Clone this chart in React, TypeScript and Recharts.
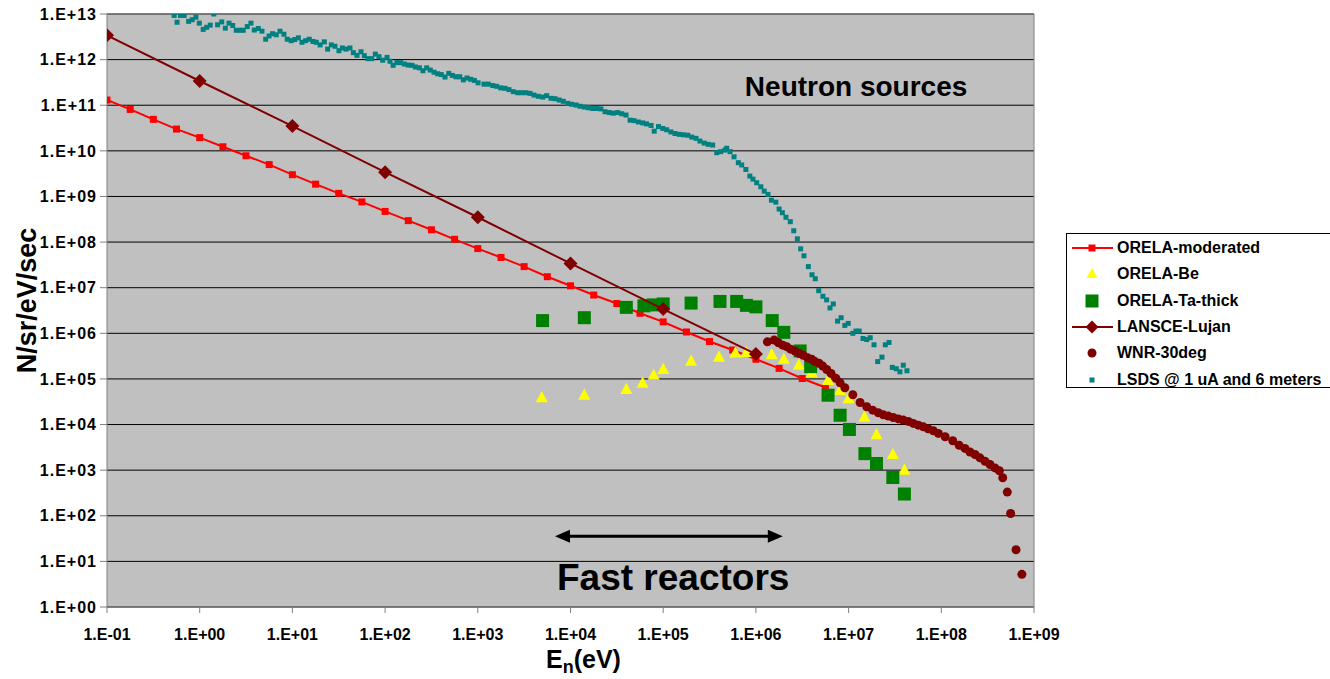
import React from 'react';
import {
  ScatterChart, Scatter, XAxis, YAxis, CartesianGrid, Legend,
  ReferenceLine, ReferenceDot
} from 'recharts';

const FONT = '"Liberation Sans", Arial, sans-serif';

const xTicks = [0.1, 1, 10, 100, 1e3, 1e4, 1e5, 1e6, 1e7, 1e8, 1e9];
const xTickLabels = ['1.E-01', '1.E+00', '1.E+01', '1.E+02', '1.E+03', '1.E+04', '1.E+05', '1.E+06', '1.E+07', '1.E+08', '1.E+09'];
const yTicks = [1, 10, 100, 1e3, 1e4, 1e5, 1e6, 1e7, 1e8, 1e9, 1e10, 1e11, 1e12, 1e13];
const yTickLabels = ['1.E+00', '1.E+01', '1.E+02', '1.E+03', '1.E+04', '1.E+05', '1.E+06', '1.E+07', '1.E+08', '1.E+09', '1.E+10', '1.E+11', '1.E+12', '1.E+13'];

// [energy eV, flux]
const orelaModerated: [number, number][] = [
  [0.1, 1.3e11], [0.178, 8.1e10], [0.316, 4.9e10], [0.562, 3.0e10], [1, 1.95e10],
  [1.78, 1.23e10], [3.16, 7.8e9], [5.62, 5.0e9], [10, 3.0e9], [17.8, 1.86e9],
  [31.6, 1.17e9], [56.2, 7.6e8], [100, 4.7e8], [178, 2.95e8], [316, 1.86e8],
  [562, 1.15e8], [1000, 7.2e7], [1780, 4.6e7], [3160, 2.9e7], [5620, 1.74e7],
  [1e4, 1.1e7], [1.78e4, 6.9e6], [3.16e4, 4.5e6], [5.62e4, 2.75e6], [1e5, 1.78e6],
  [1.78e5, 1.07e6], [3.16e5, 6.6e5], [5.62e5, 4.3e5], [1e6, 2.7e5], [1.78e6, 1.7e5],
  [3.16e6, 1.02e5], [5.62e6, 6.5e4],
];

const orelaBe: [number, number][] = [
  [4.9e3, 3.9e4], [1.41e4, 4.4e4], [4.0e4, 5.9e4], [6.0e4, 8.1e4], [7.9e4, 1.2e5],
  [1.0e5, 1.62e5], [2.0e5, 2.45e5], [4.0e5, 3.0e5], [6.0e5, 3.7e5], [7.9e5, 3.8e5],
  [1.48e6, 3.4e5], [2.0e6, 2.7e5], [2.9e6, 2.0e5], [4.0e6, 1.35e5], [6.0e6, 9.3e4],
  [8.1e6, 5.6e4], [1.0e7, 3.7e4], [1.48e7, 1.45e4], [2.0e7, 6.0e3], [3.0e7, 2.2e3],
  [4.0e7, 1.0e3],
];

const orelaTa: [number, number][] = [
  [5.0e3, 1.9e6], [1.41e4, 2.2e6], [4.0e4, 3.7e6], [6.2e4, 4.0e6], [7.8e4, 4.2e6],
  [1.0e5, 4.4e6], [2.0e5, 4.6e6], [4.1e5, 5.0e6], [6.2e5, 5.0e6], [7.9e5, 4.1e6],
  [1.0e6, 3.8e6], [1.5e6, 1.9e6], [2.0e6, 1.05e6], [3.0e6, 4.1e5], [3.9e6, 1.86e5],
  [6.0e6, 4.4e4], [8.1e6, 1.6e4], [1.02e7, 7.8e3], [1.5e7, 2.3e3], [2.0e7, 1.4e3],
  [3.0e7, 6.9e2], [4.0e7, 3.0e2],
];

const lansce: [number, number][] = [
  [0.1, 3.4e12], [1, 3.4e11], [10, 3.5e10], [100, 3.4e9],
  [1e3, 3.5e8], [1e4, 3.4e7], [1e5, 3.4e6], [1e6, 3.5e5],
];

const wnr: [number, number][] = [
  [1.33e6, 6.5e5], [1.57e6, 7.1e5], [1.75e6, 6.2e5], [1.95e6, 5.5e5], [2.15e6, 5.1e5],
  [2.37e6, 4.5e5], [2.64e6, 4.1e5], [2.94e6, 3.6e5], [3.24e6, 3.3e5], [3.62e6, 2.9e5],
  [4.0e6, 2.7e5], [4.34e6, 2.4e5], [4.8e6, 2.2e5], [5.26e6, 1.91e5], [5.81e6, 1.61e5],
  [6.46e6, 1.32e5], [7.3e6, 1.03e5], [8.1e6, 8.2e4], [9.1e6, 6.4e4], [1.11e7, 4.5e4],
  [1.33e7, 3.05e4], [1.57e7, 2.45e4], [1.82e7, 2.07e4], [2.09e7, 1.81e4], [2.37e7, 1.63e4],
  [2.68e7, 1.53e4], [3.03e7, 1.43e4], [3.44e7, 1.33e4], [3.89e7, 1.25e4], [4.41e7, 1.17e4],
  [4.99e7, 1.06e4], [5.65e7, 9.7e3], [6.4e7, 8.9e3], [7.2e7, 8.1e3], [8.2e7, 7.3e3],
  [9.3e7, 6.4e3], [1.1e8, 5.4e3], [1.33e8, 4.4e3], [1.56e8, 3.5e3], [1.8e8, 3.0e3],
  [2.04e8, 2.5e3], [2.31e8, 2.2e3], [2.61e8, 1.86e3], [2.96e8, 1.57e3], [3.35e8, 1.33e3],
  [3.79e8, 1.12e3], [4.23e8, 9.7e2], [4.6e8, 6.8e2], [5.15e8, 3.3e2], [5.6e8, 1.12e2],
  [6.4e8, 18], [7.4e8, 5.2],
];

const lsds: [number, number][] = [
  [0.53, 9.3e12], [0.57, 6.6e12], [0.62, 9.3e12], [0.68, 9.3e12], [0.76, 6.9e12],
  [0.83, 7.5e12], [0.91, 8.5e12], [0.99, 6.3e12], [1.09, 4.6e12], [1.19, 5.1e12],
  [1.3, 5.7e12], [1.42, 1.0e13], [1.56, 5.8e12], [1.73, 6.7e12], [1.89, 4.9e12],
  [2.07, 6.3e12], [2.27, 5.6e12], [2.48, 4.4e12], [2.72, 4.4e12], [2.95, 4.4e12],
  [3.26, 5.3e12], [3.57, 6.3e12], [3.88, 4.45e12], [4.29, 4.8e12], [4.7, 4.2e12],
  [5.15, 2.8e12], [5.6, 3.3e12], [6.1, 3.7e12], [6.7, 3.5e12], [7.35, 4.2e12],
  [8.1, 3.6e12], [8.8, 2.8e12], [9.7, 2.6e12], [10.6, 2.75e12], [11.6, 3.0e12],
  [12.7, 2.4e12], [13.9, 2.6e12], [15.2, 2.8e12], [16.7, 2.5e12], [18.1, 2.4e12],
  [19.9, 2.1e12], [22.1, 2.45e12], [24.0, 1.7e12], [26.3, 2.1e12], [28.8, 1.96e12],
  [31.8, 1.57e12], [34.6, 1.8e12], [37.9, 1.7e12], [41.8, 1.8e12], [45.4, 1.42e12],
  [49.8, 1.24e12], [55, 1.49e12], [59.7, 1.22e12], [65.4, 1.05e12], [71.7, 1.05e12],
  [78.4, 1.32e12], [85.9, 1.16e12], [94.2, 9.7e11], [105, 1.12e12], [113, 9.2e11],
  [122, 7.5e11], [134, 8.6e11], [147, 8.6e11], [161, 8.0e11], [178, 7.6e11],
  [195, 7.5e11], [212, 6.9e11], [234, 6.6e11], [256, 5.7e11], [281, 6.6e11],
  [307, 5.9e11], [337, 5.3e11], [369, 4.9e11], [404, 4.7e11], [443, 4.15e11],
  [486, 5.0e11], [531, 4.5e11], [582, 4.2e11], [638, 4.2e11], [698, 3.6e11],
  [765, 3.95e11], [839, 3.7e11], [918, 3.5e11], [1007, 3.1e11], [1167, 2.9e11],
  [1298, 2.9e11], [1448, 2.7e11], [1600, 2.6e11], [1766, 2.4e11], [1965, 2.35e11],
  [2172, 2.2e11], [2417, 1.98e11], [2694, 1.88e11], [2976, 1.88e11], [3311, 1.88e11],
  [3656, 1.82e11], [4037, 1.67e11], [4495, 1.57e11], [5012, 1.51e11], [5534, 1.62e11],
  [6166, 1.42e11], [6808, 1.39e11], [7568, 1.3e11], [8356, 1.22e11], [9330, 1.1e11],
  [1.03e4, 1.05e11], [1.15e4, 1.01e11], [1.27e4, 9.5e10], [1.41e4, 9.1e10], [1.56e4, 8.8e10],
  [1.73e4, 8.5e10], [1.92e4, 8.5e10], [2.13e4, 8.3e10], [2.36e4, 7.2e10], [2.62e4, 6.9e10],
  [2.9e4, 6.7e10], [3.23e4, 6.9e10], [3.57e4, 6.5e10], [3.97e4, 6.1e10], [4.39e4, 4.7e10],
  [4.84e4, 4.6e10], [5.39e4, 4.3e10], [6.0e4, 4.1e10], [6.6e4, 3.9e10], [7.4e4, 3.6e10],
  [8.0e4, 2.7e10], [8.9e4, 3.4e10], [9.9e4, 3.1e10], [1.09e5, 2.9e10], [1.21e5, 2.6e10],
  [1.34e5, 2.4e10], [1.49e5, 2.3e10], [1.65e5, 2.25e10], [1.84e5, 2.2e10], [2.03e5, 2.0e10],
  [2.26e5, 1.88e10], [2.49e5, 1.64e10], [2.77e5, 1.48e10], [3.07e5, 1.39e10], [3.42e5, 1.34e10],
  [3.78e5, 9.1e9], [4.17e5, 9.6e9], [4.64e5, 1.04e10], [4.84e5, 1.14e10], [5.26e5, 9.6e9],
  [5.81e5, 7.4e9], [6.46e5, 5.5e9], [7.03e5, 4.9e9], [7.8e5, 3.9e9], [8.6e5, 2.8e9],
  [9.3e5, 2.4e9], [1.02e6, 2.0e9], [1.13e6, 1.63e9], [1.23e6, 1.31e9], [1.35e6, 1.11e9],
  [1.47e6, 8.3e8], [1.64e6, 7.5e8], [1.78e6, 5.3e8], [1.93e6, 4.4e8], [2.11e6, 3.5e8],
  [2.35e6, 2.8e8], [2.56e6, 1.77e8], [2.8e6, 1.18e8], [3.04e6, 7.1e7], [3.3e6, 5.0e7],
  [3.68e6, 2.9e7], [4.03e6, 1.92e7], [4.37e6, 1.57e7], [4.76e6, 8.6e6], [5.29e6, 6.5e6],
  [5.8e6, 5.4e6], [6.3e6, 3.6e6], [6.84e6, 4.4e6], [7.6e6, 1.85e6], [8.3e6, 2.2e6],
  [9.1e6, 1.49e6], [9.9e6, 1.65e6], [1.11e7, 1.0e6], [1.2e7, 1.12e6], [1.3e7, 1.12e6],
  [1.43e7, 7.7e5], [1.57e7, 7.3e5], [1.71e7, 8.0e5], [1.88e7, 5.6e5], [2.06e7, 2.4e5],
  [2.29e7, 3.0e5], [2.49e7, 5.6e5], [2.73e7, 6.3e5], [2.96e7, 1.79e5], [3.27e7, 1.67e5],
  [3.58e7, 1.43e5], [3.89e7, 2.0e5], [4.26e7, 1.51e5],
];

// annotations (data coordinates)
const fastReactorRange: [number, number] = [6800, 1.95e6];
const fastReactorArrowY = 35.7;
const neutronLabelAt = { x: 7.6e5, y: 2.6e11 };
const fastLabelAt = { x: 7150, y: 4.5 };

const toPoints = (pairs: [number, number][]) => pairs.map(([x, y]) => ({ x, y }));

const squareShape = (s: number, fill: string) => (p: any) => (
  <rect x={p.cx - s / 2} y={p.cy - s / 2} width={s} height={s} fill={fill} />
);
const triangleShape = (s: number, fill: string) => (p: any) => (
  <polygon
    points={`${p.cx},${p.cy - s * 0.55} ${p.cx + s / 2},${p.cy + s * 0.38} ${p.cx - s / 2},${p.cy + s * 0.38}`}
    fill={fill}
  />
);
const diamondShape = (r: number, fill: string) => (p: any) => (
  <polygon points={`${p.cx},${p.cy - r} ${p.cx + r},${p.cy} ${p.cx},${p.cy + r} ${p.cx - r},${p.cy}`} fill={fill} />
);
const circleShape = (r: number, fill: string) => (p: any) => (
  <circle cx={p.cx} cy={p.cy} r={r} fill={fill} />
);

const legendItems = [
  { name: 'ORELA-moderated', color: '#FF0000', kind: 'lineSquare' },
  { name: 'ORELA-Be', color: '#FFFF00', kind: 'triangle' },
  { name: 'ORELA-Ta-thick', color: '#008000', kind: 'square' },
  { name: 'LANSCE-Lujan', color: '#800000', kind: 'lineDiamond' },
  { name: 'WNR-30deg', color: '#800000', kind: 'circle' },
  { name: 'LSDS @ 1 uA and 6 meters', color: '#008080', kind: 'dot' },
];

const LegendSymbol = ({ kind, color }: { kind: string; color: string }) => {
  const cx = 25, cy = 13;
  return (
    <svg width={50} height={26} style={{ flex: 'none' }}>
      {(kind === 'lineSquare' || kind === 'lineDiamond') && (
        <line x1={5} x2={46} y1={cy} y2={cy} stroke={color} strokeWidth={2} />
      )}
      {kind === 'lineSquare' && <rect x={cx - 3.5} y={cy - 3.5} width={7} height={7} fill={color} />}
      {kind === 'triangle' && <polygon points={`${cx},${cy - 6} ${cx + 5.5},${cy + 4} ${cx - 5.5},${cy + 4}`} fill={color} />}
      {kind === 'square' && <rect x={cx - 6.5} y={cy - 6.5} width={13} height={13} fill={color} />}
      {kind === 'lineDiamond' && <polygon points={`${cx},${cy - 6.5} ${cx + 6.5},${cy} ${cx},${cy + 6.5} ${cx - 6.5},${cy}`} fill={color} />}
      {kind === 'circle' && <circle cx={cx} cy={cy} r={4.5} fill={color} />}
      {kind === 'dot' && <rect x={cx - 2.5} y={cy - 2.5} width={5} height={5} fill={color} />}
    </svg>
  );
};

const LegendBox = () => (
  <div style={{
    border: '1px solid #000', borderRight: 'none', background: '#fff',
    height: 152, paddingTop: 1, boxSizing: 'content-box', fontFamily: FONT,
  }}>
    {legendItems.map(item => (
      <div key={item.name} style={{ display: 'flex', alignItems: 'center', height: 26.3 }}>
        <LegendSymbol kind={item.kind} color={item.color} />
        <span style={{ fontSize: 16, fontWeight: 'bold', color: '#000', whiteSpace: 'nowrap' }}>{item.name}</span>
      </div>
    ))}
  </div>
);

const ArrowShape = (p: any) => {
  const { x1, x2, y1 } = p;
  const head = 15, half = 6.5;
  return (
    <g>
      <line x1={x1 + head - 2} x2={x2 - head + 2} y1={y1} y2={y1} stroke="#000" strokeWidth={3} />
      <polygon points={`${x1},${y1} ${x1 + head},${y1 - half} ${x1 + head},${y1 + half}`} fill="#000" />
      <polygon points={`${x2},${y1} ${x2 - head},${y1 - half} ${x2 - head},${y1 + half}`} fill="#000" />
    </g>
  );
};

const YLabel = (props: any) => {
  const vb = props.viewBox;
  const x = vb.x + 27;
  const y = vb.y + vb.height / 2 - 10;
  return (
    <text x={x} y={y} transform={`rotate(-90 ${x} ${y})`} textAnchor="middle" dominantBaseline="central"
      fontFamily={FONT} fontWeight="bold" fontSize={27} fill="#000">
      N/sr/eV/sec
    </text>
  );
};

const XLabel = (props: any) => {
  const vb = props.viewBox;
  const x = vb.x + vb.width / 2 + 13;
  const y = vb.y + 61;
  return (
    <text x={x} y={y} textAnchor="middle" fontFamily={FONT} fontWeight="bold" fontSize={25} fill="#000">
      <tspan>E</tspan>
      <tspan dy={5} fontSize={18}>n</tspan>
      <tspan dy={-5}>(eV)</tspan>
    </text>
  );
};

const xTickStyle = { fontSize: 16, fontWeight: 'bold', fill: '#000', fontFamily: FONT };
const yTickStyle = { ...xTickStyle, letterSpacing: 1 };

export default function App() {
  return (
    <div style={{ position: 'absolute', left: 0, top: 0, width: 1330, height: 679, background: '#fff' }}>
      <ScatterChart width={1330} height={679} margin={{ top: 14, right: 296, bottom: 0, left: 0 }}>
        <CartesianGrid vertical={false} stroke="#000" fill="#C0C0C0" fillOpacity={1} />
        <XAxis
          dataKey="x" type="number" scale="log" domain={[0.1, 1e9]} allowDataOverflow
          ticks={xTicks} interval={0} height={72}
          tickFormatter={(v: number) => xTickLabels[xTicks.indexOf(v)]}
          tick={xTickStyle} tickSize={6} tickMargin={16}
          axisLine={{ stroke: '#808080' }} tickLine={{ stroke: '#808080' }}
          label={{ content: XLabel }}
        />
        <YAxis
          dataKey="y" type="number" scale="log" domain={[1, 1e13]} allowDataOverflow
          ticks={yTicks} interval={0} width={107}
          tickFormatter={(v: number) => yTickLabels[yTicks.indexOf(v)]}
          tick={yTickStyle} tickSize={7} tickMargin={3}
          axisLine={{ stroke: '#808080' }} tickLine={{ stroke: '#808080' }}
          label={{ content: YLabel }}
        />
        <ReferenceLine y={1e13} stroke="#808080" />
        <ReferenceLine x={1e9} stroke="#808080" />

        <Scatter name="ORELA-moderated" data={toPoints(orelaModerated)} isAnimationActive={false}
          line={{ stroke: '#FF0000', strokeWidth: 2 }} lineType="joint" shape={squareShape(7, '#FF0000')} />
        <Scatter name="ORELA-Be" data={toPoints(orelaBe)} isAnimationActive={false}
          shape={triangleShape(12, '#FFFF00')} />
        <Scatter name="ORELA-Ta-thick" data={toPoints(orelaTa)} isAnimationActive={false}
          shape={squareShape(13, '#008000')} />
        <Scatter name="LANSCE-Lujan" data={toPoints(lansce)} isAnimationActive={false}
          line={{ stroke: '#800000', strokeWidth: 2 }} lineType="joint" shape={diamondShape(7, '#800000')} />
        <Scatter name="WNR-30deg" data={toPoints(wnr)} isAnimationActive={false}
          shape={circleShape(4.5, '#800000')} />
        <Scatter name="LSDS @ 1 uA and 6 meters" data={toPoints(lsds)} isAnimationActive={false}
          shape={squareShape(5, '#008080')} />

        <ReferenceLine
          segment={[{ x: fastReactorRange[0], y: fastReactorArrowY }, { x: fastReactorRange[1], y: fastReactorArrowY }]}
          shape={ArrowShape}
        />
        <ReferenceDot x={neutronLabelAt.x} y={neutronLabelAt.y} r={0} fill="none" stroke="none"
          label={{ value: 'Neutron sources', position: 'right', offset: 0, fontSize: 28, fontWeight: 'bold', fill: '#000', fontFamily: FONT }} />
        <ReferenceDot x={fastLabelAt.x} y={fastLabelAt.y} r={0} fill="none" stroke="none"
          label={{ value: 'Fast reactors', position: 'right', offset: 0, fontSize: 37, fontWeight: 'bold', fill: '#000', fontFamily: FONT }} />

        <Legend layout="vertical" align="center" verticalAlign="middle"
          wrapperStyle={{ left: 1066, top: 233, width: 264 }} content={LegendBox} />
      </ScatterChart>
    </div>
  );
}
